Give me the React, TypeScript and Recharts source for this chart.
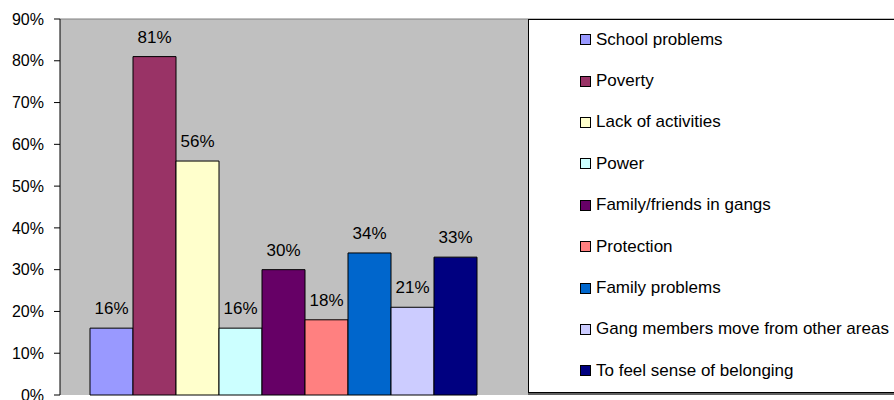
import React from 'react';
import {
  BarChart,
  Bar,
  XAxis,
  YAxis,
  CartesianGrid,
  ReferenceLine,
  LabelList,
  Legend,
} from 'recharts';

const seriesNames = [
  'School problems',
  'Poverty',
  'Lack of activities',
  'Power',
  'Family/friends in gangs',
  'Protection',
  'Family problems',
  'Gang members move from other areas',
  'To feel sense of belonging',
];
const seriesValues = [0.16, 0.81, 0.56, 0.16, 0.3, 0.18, 0.34, 0.21, 0.33];
const seriesColors = [
  '#9999FF',
  '#993366',
  '#FFFFCC',
  '#CCFFFF',
  '#660066',
  '#FF8080',
  '#0066CC',
  '#CCCCFF',
  '#000080',
];
const categories = ['', ' '];
const yTicks = [0, 0.1, 0.2, 0.3, 0.4, 0.5, 0.6, 0.7, 0.8, 0.9];

// first category holds the bars, second one is empty (hidden behind the legend)
const data = categories.map((name, ci) => {
  const row: Record<string, any> = { name };
  if (ci === 0) seriesNames.forEach((_, i) => (row['s' + i] = seriesValues[i]));
  return row;
});

const pct = (v: any) => (v == null ? '' : `${Math.round(v * 100)}%`);

const LegendBox = () => (
  <div
    style={{
      width: 380,
      height: 374,
      background: '#fff',
      border: '1px solid #000',
      boxShadow: '0 2px 0 #606060',
      boxSizing: 'border-box',
    }}
  >
    {seriesNames.map((n, i) => (
      <div
        key={n}
        style={{
          height: 41.4,
          display: 'flex',
          alignItems: 'center',
          paddingLeft: 51,
          marginTop: i === 0 ? -1 : 0,
          fontSize: 17,
          color: '#000',
          whiteSpace: 'nowrap',
        }}
      >
        <span
          style={{
            display: 'inline-block',
            width: 9,
            height: 9,
            background: seriesColors[i],
            border: '1px solid #000',
            marginRight: 5,
          }}
        />
        {n}
      </div>
    ))}
  </div>
);

export default function App() {
  return (
    <div
      style={{
        position: 'absolute',
        left: 0,
        top: 0,
        width: 894,
        height: 400,
        overflow: 'hidden',
        background: '#fff',
        fontFamily: '"Liberation Sans", Arial, sans-serif',
      }}
    >
      <BarChart
        width={954}
        height={400}
        data={data}
        margin={{ top: 19, right: 0, bottom: 0, left: 0 }}
        barCategoryGap={30}
        barGap={0}
      >
        <CartesianGrid fill="#C0C0C0" horizontal={false} vertical={false} stroke="none" />
        <XAxis xAxisId="c" dataKey="name" hide />
        <XAxis
          xAxisId="n"
          type="number"
          domain={[0, 2]}
          ticks={[0, 1, 2]}
          tick={false}
          height={5}
          tickSize={5}
          axisLine={{ stroke: '#000' }}
          tickLine={{ stroke: '#000' }}
        />
        <YAxis
          domain={[0, 0.9]}
          ticks={yTicks}
          tickFormatter={pct}
          width={60}
          tickSize={6}
          tickMargin={10}
          axisLine={{ stroke: '#000' }}
          tickLine={{ stroke: '#000' }}
          tick={{ fill: '#000', fontSize: 16 }}
          interval={0}
        />
        <ReferenceLine xAxisId="c" y={0.9} stroke="#808080" />
        {seriesNames.map((n, i) => (
          <Bar
            key={n}
            xAxisId="c"
            dataKey={'s' + i}
            name={n}
            fill={seriesColors[i]}
            stroke="#000"
            strokeWidth={1}
            isAnimationActive={false}
          >
            <LabelList
              dataKey={'s' + i}
              position="top"
              offset={14}
              formatter={pct}
              fill="#000"
              fontSize={17}
            />
          </Bar>
        ))}
        <Legend
          layout="vertical"
          align="center"
          verticalAlign="middle"
          content={() => <LegendBox />}
          wrapperStyle={{ left: 528, top: 19, width: 380, height: 374 }}
        />
      </BarChart>
    </div>
  );
}
